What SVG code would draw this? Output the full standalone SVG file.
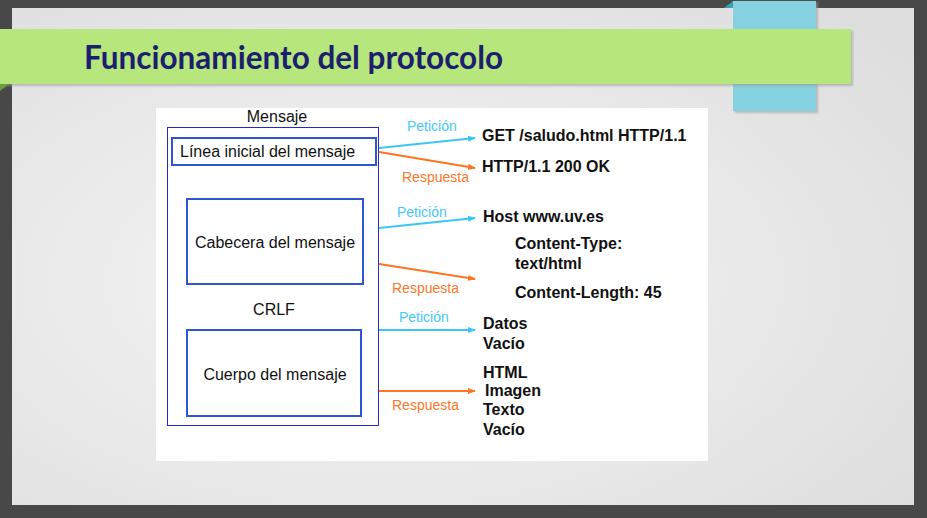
<svg xmlns="http://www.w3.org/2000/svg" width="927" height="518" viewBox="0 0 927 518">
  <defs>
    <radialGradient id="slideBg" cx="0.4" cy="0.55" r="0.75">
      <stop offset="0" stop-color="#f6f6f6"/>
      <stop offset="1" stop-color="#dedede"/>
    </radialGradient>
    <marker id="headCyan" markerWidth="8" markerHeight="6" refX="7" refY="3" orient="auto" markerUnits="userSpaceOnUse">
      <path d="M0,0 L8,3 L0,6 Z" fill="#3cc6f8"/>
    </marker>
    <marker id="headOrange" markerWidth="8" markerHeight="6" refX="7" refY="3" orient="auto" markerUnits="userSpaceOnUse">
      <path d="M0,0 L8,3 L0,6 Z" fill="#ff7420"/>
    </marker>
    <filter id="soft" x="-5%" y="-20%" width="110%" height="140%">
      <feGaussianBlur stdDeviation="1.2"/>
    </filter>
  </defs>
  <style>
    .lbl { font-family: "Liberation Sans", Arial, sans-serif; font-size: 16px; fill: #111111; }
    .val { font-family: "Liberation Sans", Arial, sans-serif; font-size: 16px; font-weight: bold; fill: #111111; }
    .req { font-family: "Liberation Sans", Arial, sans-serif; font-size: 14px; fill: #44c8f8; }
    .res { font-family: "Liberation Sans", Arial, sans-serif; font-size: 14px; fill: #ff7628; }
    .part { fill: #ffffff; stroke: #2d55d5; stroke-width: 2; }
    .cyan { stroke: #3cc6f8; stroke-width: 2; fill: none; marker-end: url(#headCyan); }
    .orange { stroke: #ff7420; stroke-width: 2; fill: none; marker-end: url(#headOrange); }
  </style>

  <!-- frame and slide -->
  <rect x="0" y="0" width="927" height="518" fill="#484848"/>
  <rect x="12" y="8" width="902" height="497" fill="url(#slideBg)"/>

  <!-- blue tab behind the title band -->
  <rect x="735" y="2" width="83" height="111" fill="#9a9a9a" opacity="0.6" filter="url(#soft)"/>
  <rect x="733" y="1" width="83" height="110" fill="#85d1df"/>
  <path d="M724,8 L733,1 L733,8 Z" fill="#3a9fb3"/>

  <!-- title band -->
  <rect x="0" y="31" width="853" height="55" fill="#9a9a9a" opacity="0.6" filter="url(#soft)"/>
  <rect x="0" y="29" width="851" height="55" fill="#b6e67c"/>
  <path d="M0,84 L9,84 L0,91 Z" fill="#6f9c3c"/>
  <text x="84" y="69" font-family="Lato, 'Open Sans', sans-serif" font-weight="bold" font-size="31.5" fill="#1c1f6e">Funcionamiento del protocolo</text>

  <!-- diagram panel -->
  <rect x="156" y="108" width="552" height="353" fill="#ffffff"/>

  <g id="mensaje">
    <rect x="167.5" y="127.5" width="211" height="298" fill="none" stroke="#2828c8" stroke-width="1"/>
    <text class="lbl" x="277" y="122" text-anchor="middle">Mensaje</text>
  </g>

  <g id="linea-inicial">
    <rect class="part" x="172" y="138" width="204" height="27"/>
    <text class="lbl" x="180" y="157">Línea inicial del mensaje</text>
  </g>

  <g id="cabecera">
    <rect class="part" x="187" y="199" width="176" height="85"/>
    <text class="lbl" x="275" y="248" text-anchor="middle">Cabecera del mensaje</text>
  </g>

  <g id="crlf">
    <text class="lbl" x="274" y="315" text-anchor="middle">CRLF</text>
  </g>

  <g id="cuerpo">
    <rect class="part" x="187" y="330" width="174" height="86"/>
    <text class="lbl" x="275" y="380" text-anchor="middle">Cuerpo del mensaje</text>
  </g>

  <!-- connectors -->
  <g id="connectors">
    <line class="cyan" x1="379" y1="148" x2="475" y2="138"/>
    <line class="orange" x1="379" y1="152" x2="475" y2="168"/>
    <line class="cyan" x1="379" y1="228" x2="475" y2="218"/>
    <line class="orange" x1="379" y1="264" x2="475" y2="279"/>
    <line class="cyan" x1="379" y1="330" x2="475" y2="330"/>
    <line class="orange" x1="379" y1="391" x2="475" y2="391"/>
    <text class="req" x="407" y="131">Petición</text>
    <text class="res" x="402" y="182">Respuesta</text>
    <text class="req" x="397" y="217">Petición</text>
    <text class="res" x="392" y="293">Respuesta</text>
    <text class="req" x="399" y="322">Petición</text>
    <text class="res" x="392" y="410">Respuesta</text>
  </g>

  <g id="linea-valores">
    <text class="val" x="482" y="141">GET /saludo.html HTTP/1.1</text>
    <text class="val" x="482" y="172">HTTP/1.1 200 OK</text>
  </g>

  <g id="cabecera-valores">
    <text class="val" x="483" y="222">Host www.uv.es</text>
    <text class="val" x="515" y="249">Content-Type:</text>
    <text class="val" x="515" y="269">text/html</text>
    <text class="val" x="515" y="298">Content-Length: 45</text>
  </g>

  <g id="cuerpo-valores">
    <text class="val" x="483" y="329">Datos</text>
    <text class="val" x="483" y="349">Vacío</text>
    <text class="val" x="483" y="378">HTML</text>
    <text class="val" x="485" y="396">Imagen</text>
    <text class="val" x="483" y="415">Texto</text>
    <text class="val" x="483" y="435">Vacío</text>
  </g>
</svg>
